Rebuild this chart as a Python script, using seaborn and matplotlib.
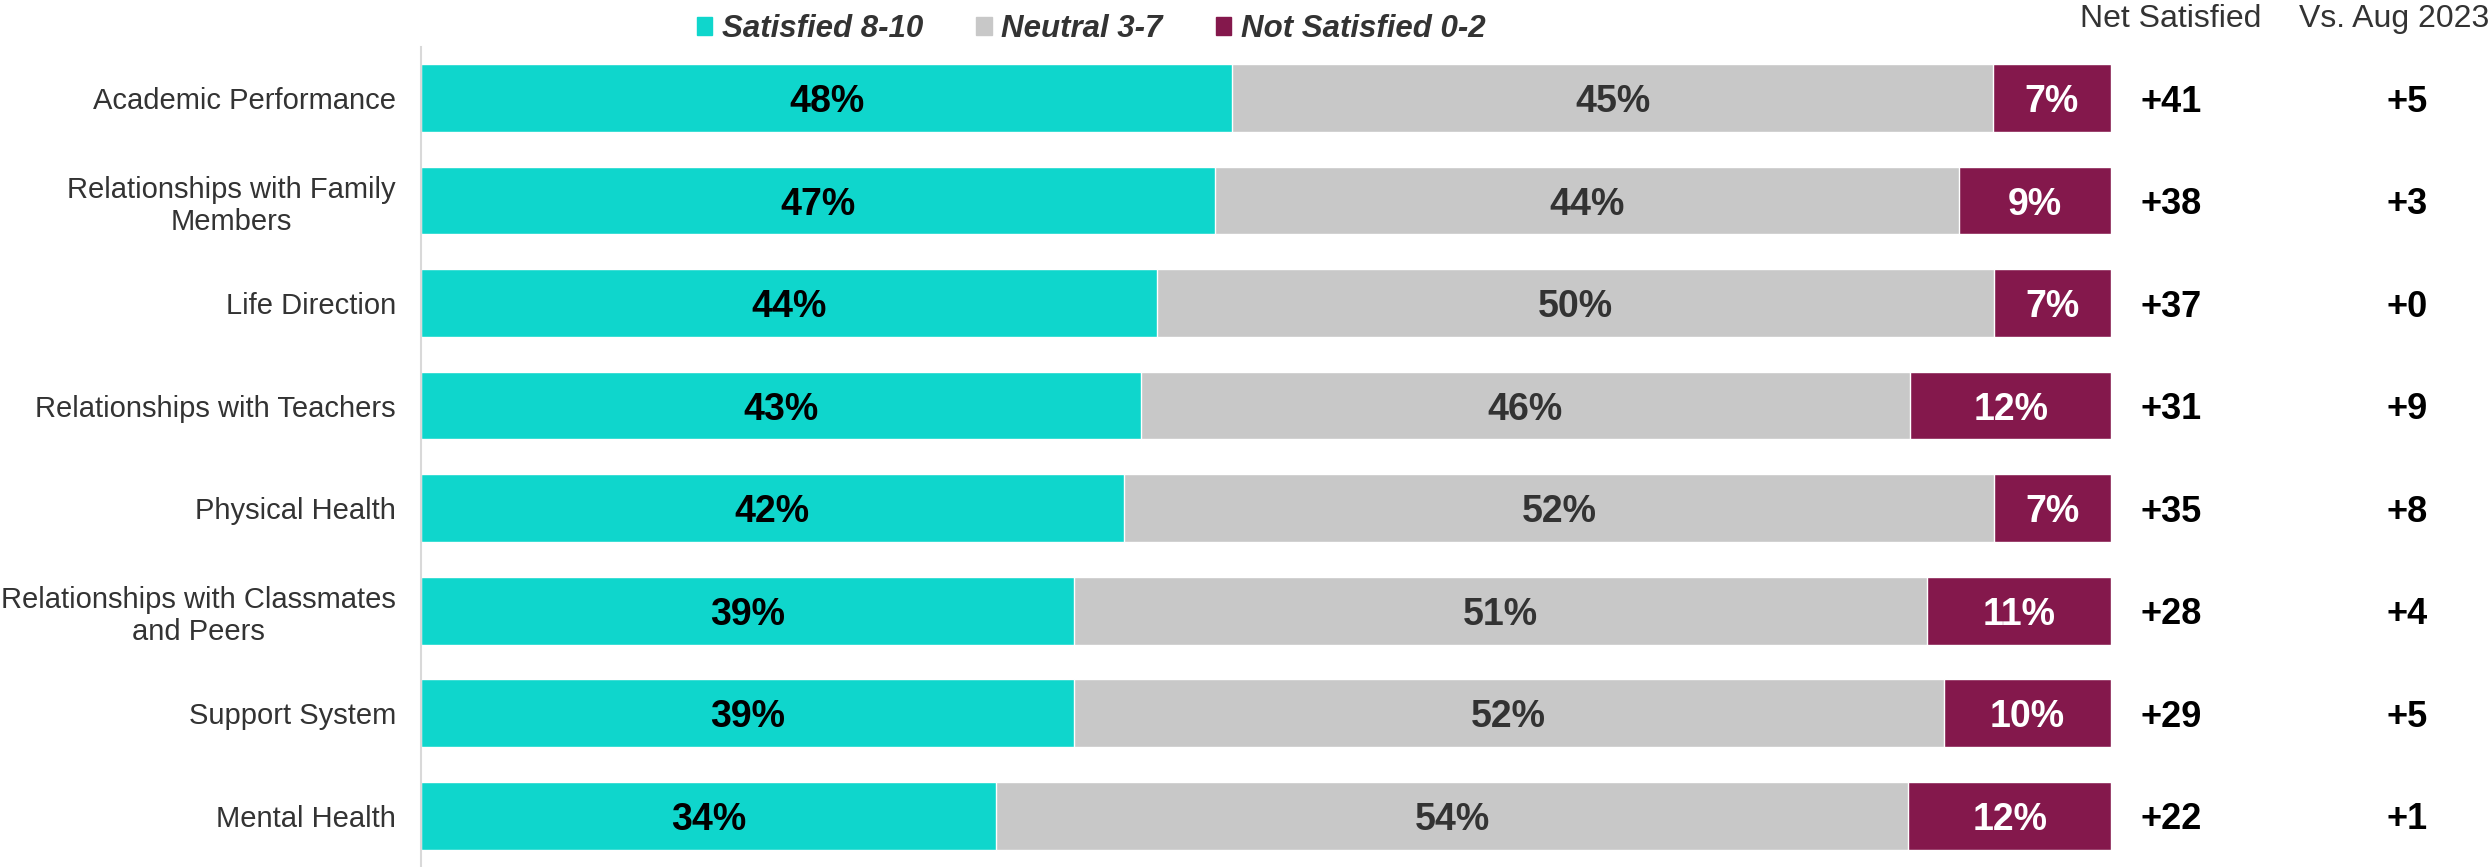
import pandas as pd
import seaborn as sns
import matplotlib.pyplot as plt
from matplotlib.patches import Patch
from matplotlib.transforms import blended_transform_factory

categories = ['Academic Performance', 'Relationships with Family\nMembers', 'Life Direction',
              'Relationships with Teachers', 'Physical Health',
              'Relationships with Classmates\nand Peers', 'Support System', 'Mental Health']
satisfied = [48, 47, 44, 43, 42, 39, 39, 34]
neutral = [45, 44, 50, 46, 52, 51, 52, 54]
not_satisfied = [7, 9, 7, 12, 7, 11, 10, 12]
net_satisfied = ['+41', '+38', '+37', '+31', '+35', '+28', '+29', '+22']
vs_aug = ['+5', '+3', '+0', '+9', '+8', '+4', '+5', '+1']

teal, grey, maroon = '#0fd6cc', '#c8c8c8', '#84184c'

sns.set_style('white')
plt.rcParams['font.family'] = ['Liberation Sans', 'DejaVu Sans']

df = pd.DataFrame({'cat': categories, 'sat': satisfied, 'neu': neutral, 'nsat': not_satisfied})
tot = df['sat'] + df['neu'] + df['nsat']
# bars are drawn as shares of each row total, so all rows end at 100
df['p_sat'] = df['sat'] / tot * 100
df['p_neu'] = df['neu'] / tot * 100
df['p_nsat'] = df['nsat'] / tot * 100
df['c2'] = df['p_sat'] + df['p_neu']
df['c3'] = df['c2'] + df['p_nsat']

fig = plt.figure(figsize=(24.91, 8.67), dpi=100)
ax = fig.add_axes([0.169, 0.0, 0.8475 - 0.169, 0.946])

w = 0.66
sns.barplot(data=df, y='cat', x='c3', color=maroon, width=w, orient='h', ax=ax, saturation=1)
sns.barplot(data=df, y='cat', x='c2', color=grey, width=w, orient='h', ax=ax, saturation=1)
sns.barplot(data=df, y='cat', x='p_sat', color=teal, width=w, orient='h', ax=ax, saturation=1)

ax.set_xlim(0, 100)
ax.set_ylim(7.5, -0.5)
ax.set_xlabel('')
ax.set_ylabel('')
ax.set_xticks([])
for s in ['top', 'right', 'bottom']:
    ax.spines[s].set_visible(False)
ax.spines['left'].set_color('#d9d9d9')
ax.spines['left'].set_linewidth(1.5)
ax.tick_params(axis='y', length=0, pad=18)
for lab in ax.get_yticklabels():
    lab.set_fontsize(21)
    lab.set_color('#333333')
    lab.set_multialignment('center')

for i in range(len(categories)):
    ax.text(df['p_sat'][i] / 2, i, f'{satisfied[i]}%', ha='center', va='center_baseline',
            fontsize=27, fontweight='bold', color='black')
    ax.text(df['p_sat'][i] + df['p_neu'][i] / 2, i, f'{neutral[i]}%', ha='center', va='center_baseline',
            fontsize=27, fontweight='bold', color='#333333')
    ax.text(df['c2'][i] + df['p_nsat'][i] / 2, i, f'{not_satisfied[i]}%', ha='center', va='center_baseline',
            fontsize=27, fontweight='bold', color='white')

tr = blended_transform_factory(fig.transFigure, ax.transData)
for i in range(len(categories)):
    ax.text(0.8715, i, net_satisfied[i], transform=tr, ha='center', va='center_baseline',
            fontsize=26, fontweight='bold', color='black')
    ax.text(0.9665, i, vs_aug[i], transform=tr, ha='center', va='center_baseline',
            fontsize=26, fontweight='bold', color='black')

fig.text(0.8715, 0.978, 'Net Satisfied', ha='center', va='center', fontsize=23, color='#333333')
fig.text(0.961, 0.978, 'Vs. Aug 2023', ha='center', va='center', fontsize=23, color='#333333')

handles = [Patch(color=teal), Patch(color=grey), Patch(color=maroon)]
leg = fig.legend(handles, ['Satisfied 8-10', 'Neutral 3-7', 'Not Satisfied 0-2'],
                 loc='center', bbox_to_anchor=(0.438, 0.966), ncol=3, frameon=False,
                 handlelength=0.5, handleheight=0.5, handletextpad=0.3, columnspacing=1.7,
                 prop={'size': 22.5, 'weight': 'bold', 'style': 'italic'})
for t in leg.get_texts():
    t.set_color('#333333')

fig.savefig('out.png', dpi=100)
